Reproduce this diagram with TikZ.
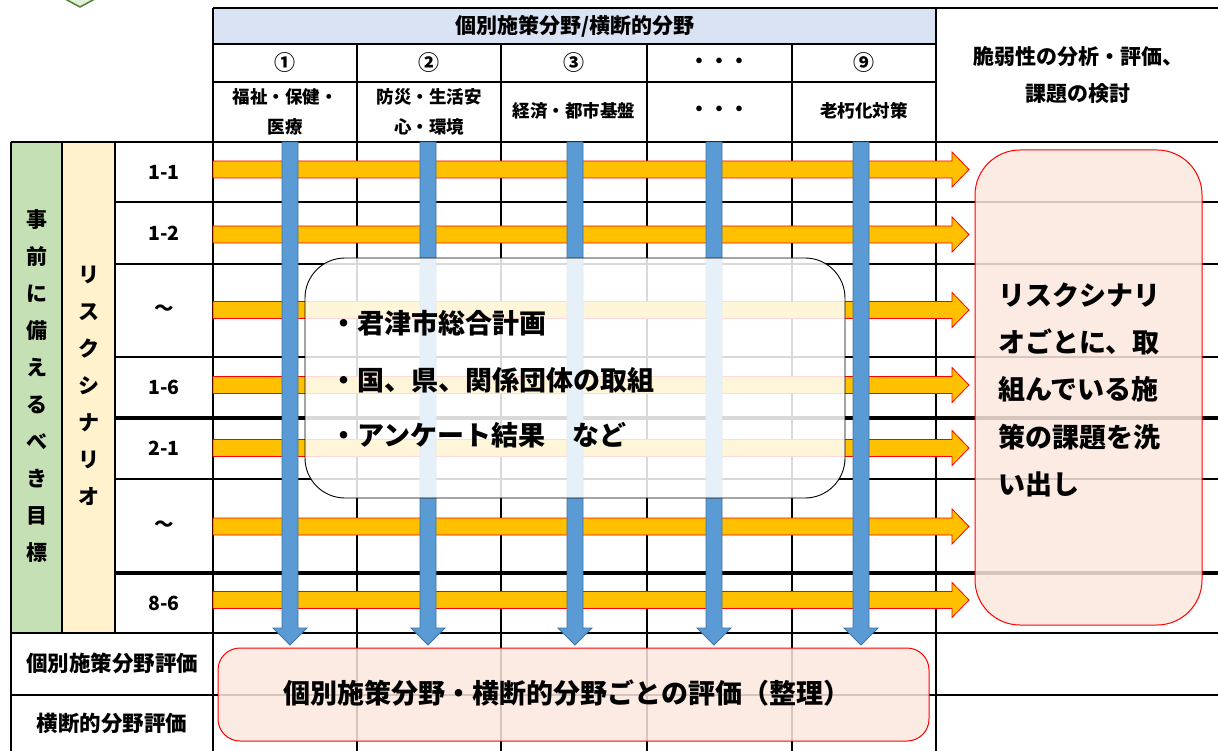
\documentclass[tikz,border=0pt]{standalone}
\usepackage{fontspec}
\setmainfont{Noto Sans CJK JP}
\definecolor{hdrblue}{HTML}{DAE3F3}
\definecolor{goalgreen}{HTML}{C5E0B4}
\definecolor{scenyellow}{HTML}{FFF2CC}
\definecolor{arrorange}{HTML}{FFC000}
\definecolor{arrblue}{HTML}{5B9BD5}
\definecolor{arrblueline}{HTML}{41719C}
\definecolor{peach}{HTML}{FBE8DD}
\definecolor{dkgreen}{HTML}{548235}
\definecolor{ltgreen}{HTML}{E2F0D9}
\begin{document}
\begin{tikzpicture}[x=1pt,y=-1pt,
  gridline/.style={line width=2pt},
  thickline/.style={line width=4pt},
  txt/.style={font=\bfseries\fontsize{#1}{#1}\selectfont, inner sep=0pt},
  mtxt/.style 2 args={font=\bfseries\fontsize{#1}{#2}\selectfont, inner sep=0pt, align=center},
  orangearrow/.style={draw=red, line width=0.8pt, fill=arrorange},
  bluearrow/.style={draw=arrblueline, line width=0.8pt, fill=arrblue},
  redbox/.style={draw=red, line width=1pt, fill=peach, fill opacity=0.85},
  whitebox/.style={draw=black, line width=0.9pt, fill=white, fill opacity=0.85}]
\useasboundingbox (0,0) rectangle (1218,751);
\begin{scope}
\clip (0,0) rectangle (1218,751);
% fills
\fill[hdrblue] (213,8) rectangle (936,44);
\fill[goalgreen] (11,142) rectangle (62,633);
\fill[scenyellow] (62,142) rectangle (115,633);
% partial green diamond at top-left
\draw[dkgreen, fill=ltgreen, line width=1.5pt] (41,-14) -- (80,7) -- (119,-14) -- (80,-35) -- cycle;
% grid
\draw[gridline] (213,8) -- (1218,8);
\draw[gridline] (213,44) -- (936,44);
\draw[gridline] (213,82) -- (936,82);
\draw[gridline] (11,142) -- (1218,142);
\foreach \y in {202,264,357,479} \draw[gridline] (115,\y) -- (1218,\y);
\foreach \y in {418,573} \draw[thickline] (115,\y) -- (1218,\y);
\foreach \y in {633,695} \draw[gridline] (11,\y) -- (1218,\y);
\draw[gridline] (213,8) -- (213,751);
\draw[gridline] (936,8) -- (936,751);
\foreach \x in {357,501,647,792} \draw[gridline] (\x,44) -- (\x,751);
\draw[gridline] (11,142) -- (11,751);
\foreach \x in {62,115} \draw[gridline] (\x,142) -- (\x,633);
% orange arrows
\foreach \y in {169.5,234.5,310,385,448,526.5,600}
  \draw[orangearrow] (213,\y-8.5) -- (952,\y-8.5) -- (952,\y-17.5) -- (969,\y)
     -- (952,\y+17.5) -- (952,\y+8.5) -- (213,\y+8.5) -- cycle;
% blue arrows
\foreach \x in {290,428,575,714,861}
  \draw[bluearrow] (\x-8,142) -- (\x+8,142) -- (\x+8,628) -- (\x+17,628)
     -- (\x,645) -- (\x-17,628) -- (\x-8,628) -- cycle;
% boxes
\node (srcbox) [whitebox, rounded corners=40pt, minimum width=540pt, minimum height=240pt, inner sep=0pt] at (575,378) {};
\node (taskbox) [redbox, rounded corners=45pt, minimum width=227pt, minimum height=475pt, inner sep=0pt] at (1088.5,387.5) {};
\node (evalbox) [redbox, rounded corners=22pt, minimum width=711pt, minimum height=93pt, inner sep=0pt] at (573.5,694.5) {};
\end{scope}
% header texts
\node (hdr) [txt=21] at (575,26) {個別施策分野/横断的分野};
\node (n1) [txt=21] at (285,63) {①};
\node (n2) [txt=21] at (429,63) {②};
\node (n3) [txt=21] at (574,63) {③};
\node (n4) [txt=20] at (719.5,63) {・・・};
\node (n9) [txt=21] at (864,63) {⑨};
\node (f1) [mtxt={17.5}{30}] at (285,112) {福祉・保健・\\医療};
\node (f2) [mtxt={17.5}{30}] at (429,112) {防災・生活安\\心・環境};
\node (f3) [txt=17.5] at (574,111) {経済・都市基盤};
\node (f4) [txt=20] at (719.5,111) {・・・};
\node (f9) [txt=17.5] at (864,111) {老朽化対策};
\node (vuln) [mtxt={21}{37}] at (1078,75) {脆弱性の分析・評価、\\課題の検討};
% left columns
\node (goal) [mtxt={21}{37}] at (36.5,386.5) {事\\前\\に\\備\\え\\る\\べ\\き\\目\\標};
\node (scen) [mtxt={21}{37}] at (88.5,386) {リ\\ス\\ク\\シ\\ナ\\リ\\オ};
\node (r11) [txt=19.5] at (164,172) {1-1};
\node (r12) [txt=19.5] at (164,233) {1-2};
\node (r1x) [txt=19.5] at (164,310) {～};
\node (r16) [txt=19.5] at (164,387) {1-6};
\node (r21) [txt=19.5] at (164,448) {2-1};
\node (r2x) [txt=19.5] at (164,526) {～};
\node (r86) [txt=19.5] at (164,603) {8-6};
\node (ev1) [txt=21.5] at (112,663) {個別施策分野評価};
\node (ev2) [txt=21.5] at (112,723) {横断的分野評価};
% central box texts
\node (s1) [txt=27, anchor=west] at (330,323) {・君津市総合計画};
\node (s2) [txt=27, anchor=west] at (330,380) {・国、県、関係団体の取組};
\node (s3) [txt=27, anchor=west] at (330,435) {・アンケート結果　など};
% right box texts
\node (t1) [txt=27, anchor=west] at (998,295) {リスクシナリ};
\node (t2) [txt=27, anchor=west] at (998,342) {オごとに、取};
\node (t3) [txt=27, anchor=west] at (998,389) {組んでいる施};
\node (t4) [txt=27, anchor=west] at (998,437) {策の課題を洗};
\node (t5) [txt=27, anchor=west] at (998,484) {い出し};
% bottom box text
\node (evtext) [txt=27] at (567,693) {個別施策分野・横断的分野ごとの評価（整理）};
\end{tikzpicture}
\end{document}
